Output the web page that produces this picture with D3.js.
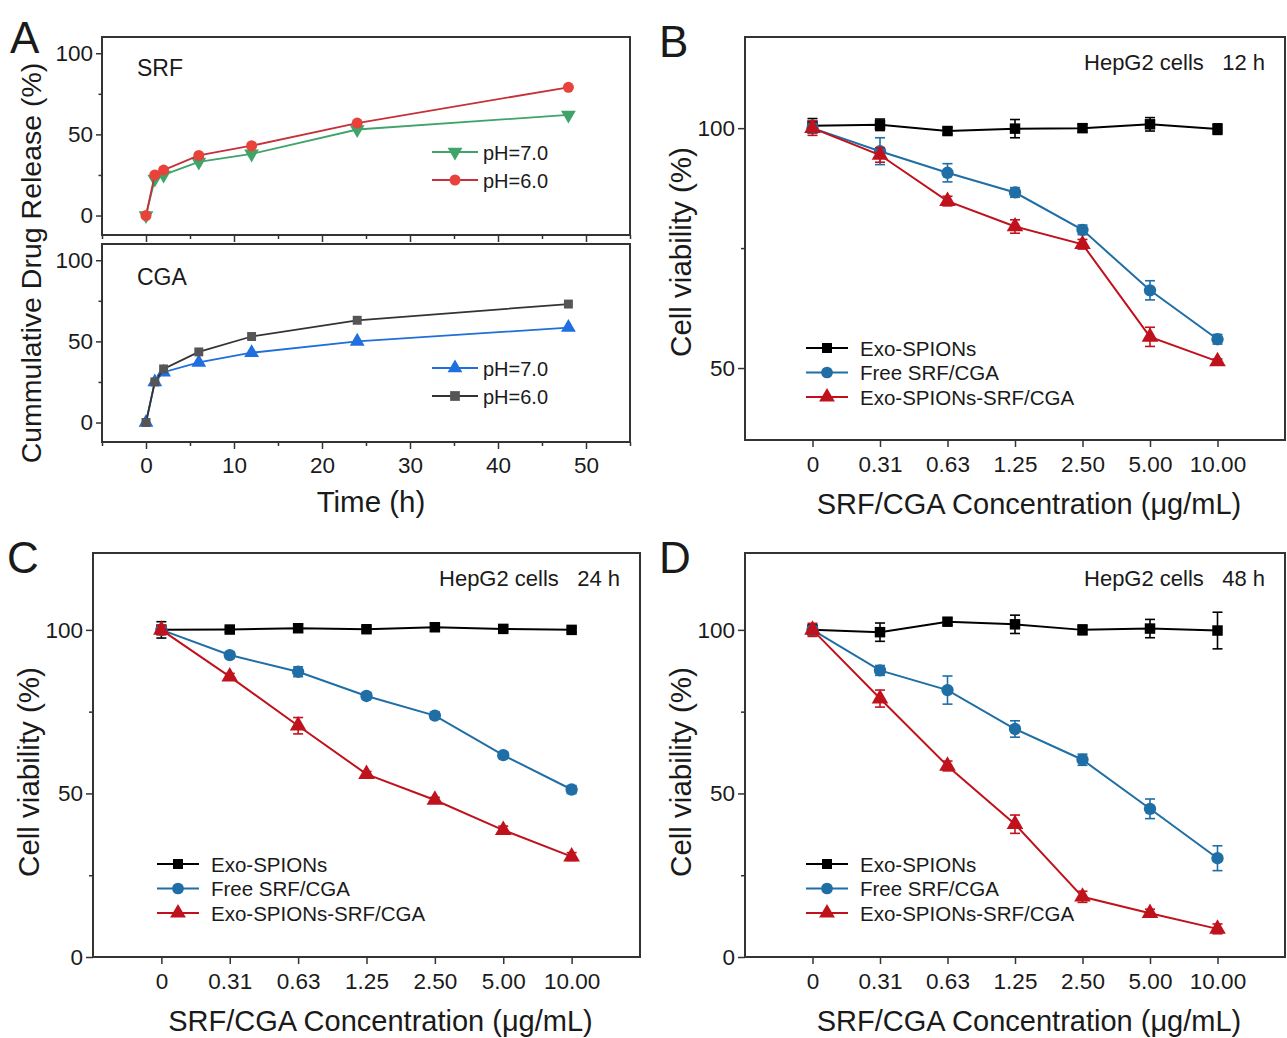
<!DOCTYPE html>
<html>
<head>
  <meta charset="utf-8">
  <title>Release and viability</title>
  <style>
  body { margin: 0; background: #fff; }
  svg { font-family: "Liberation Sans", Arial, sans-serif; }
  </style>
</head>
<body>
  <svg width="1287" height="1038"></svg>
  <script src="https://d3js.org/d3.v7.min.js"></script>
  <script>
    // ---- data ----
    var releaseTime = [0, 1, 2, 6, 12, 24, 48];
    var srfPH7 = [0, 22.5, 25, 33, 38, 53, 62];
    var srfPH6 = [0, 25, 28, 37, 43, 57, 79];
    var cgaPH7 = [0, 25, 31, 37, 43, 50, 58.5];
    var cgaPH6 = [0, 25, 33, 43.5, 53, 63, 73];

    var concLabels = ["0", "0.31", "0.63", "1.25", "2.50", "5.00", "10.00"];
    var seriesNames = ["Exo-SPIONs", "Free SRF/CGA", "Exo-SPIONs-SRF/CGA"];

    var exo12 = [100.5, 100.7, 99.4, 99.9, 100, 100.8, 99.8];
    var exo12Err = [1.5, 1.2, 0.7, 1.9, 0.8, 1.4, 1.1];
    var free12 = [100, 95.2, 90.7, 86.6, 78.8, 66.2, 56];
    var free12Err = [1, 2.8, 1.9, 1, 1, 2, 1];
    var combo12 = [100, 94.4, 84.8, 79.5, 75.8, 56.5, 51.4];
    var combo12Err = [1.5, 1.5, 1, 1.4, 1, 2, 0.5];

    var exo24 = [100, 100.1, 100.5, 100.2, 100.8, 100.3, 100];
    var exo24Err = [2.5, 0.8, 1.2, 0.8, 1.2, 0.8, 0.7];
    var free24 = [100, 92.3, 87.2, 79.8, 73.8, 61.7, 51.2];
    var free24Err = [1, 1, 1.5, 1, 1, 1, 1.2];
    var combo24 = [100, 85.7, 70.7, 55.9, 48, 38.8, 30.7];
    var combo24Err = [1.5, 1, 2.5, 0.8, 0.8, 1.2, 1.2];

    var exo48 = [100, 99.3, 102.5, 101.7, 100, 100.4, 99.8];
    var exo48Err = [1.5, 2.8, 1, 2.8, 1.5, 2.8, 5.6];
    var free48 = [100, 87.6, 81.6, 69.7, 60.3, 45.3, 30.2];
    var free48Err = [1, 1.5, 4.3, 2.5, 1.7, 3, 3.8];
    var combo48 = [100, 79, 58.4, 40.6, 18.4, 13.4, 8.6];
    var combo48Err = [2, 2.6, 1.5, 2.8, 1.7, 1.2, 1.5];

    var svg = d3.select("svg");
    var ink = "#1a1a1a";
    var tickFont = 22.5, titleFont = 29.5;

    function marker(g, shape, x, y, color, size) {
      var types = { square: d3.symbolSquare, circle: d3.symbolCircle, tri: d3.symbolTriangle, down: d3.symbolTriangle };
      g.append("path")
        .attr("d", d3.symbol().type(types[shape]).size(size)())
        .attr("transform", "translate(" + x + "," + y + ")" + (shape === "down" ? " rotate(180)" : ""))
        .attr("fill", color);
    }

    function frame(x0, x1, y0, y1) {
      svg.append("rect").attr("x", x0).attr("y", y0)
        .attr("width", x1 - x0).attr("height", y1 - y0)
        .attr("fill", "none").attr("stroke", "#333").attr("stroke-width", 2);
    }

    function styleAxis(g, size) {
      g.select(".domain").remove();
      g.selectAll(".tick line").attr("stroke", "#333").attr("stroke-width", 1.5);
      g.selectAll(".tick text").attr("fill", ink).attr("font-size", size)
        .attr("font-family", "Liberation Sans, Arial, sans-serif");
    }

    // ---- panel A ----
    var ax = d3.scaleLinear().domain([-5, 55]).range([102, 630]);

    function releasePanel(y0, y1, lines, showLabels) {
      var y = d3.scaleLinear().domain([-12, 110]).range([y1, y0]);
      frame(102, 630, y0, y1);
      var yg = svg.append("g").attr("transform", "translate(102,0)")
        .call(d3.axisLeft(y).tickValues([0, 50, 100]).tickSize(6).tickPadding(3));
      styleAxis(yg, tickFont);
      svg.append("g").attr("transform", "translate(102,0)")
        .call(d3.axisLeft(y).tickValues([25, 75]).tickSize(3.5).tickFormat(""))
        .call(function (g) { styleAxis(g, 1); });
      var xg = svg.append("g").attr("transform", "translate(0," + y1 + ")")
        .call(d3.axisBottom(ax).tickValues([0, 10, 20, 30, 40, 50]).tickSize(7).tickPadding(8));
      styleAxis(xg, tickFont);
      svg.append("g").attr("transform", "translate(0," + y1 + ")")
        .call(d3.axisBottom(ax).tickValues([-5, 5, 15, 25, 35, 45, 55]).tickSize(4).tickFormat(""))
        .call(function (g) { styleAxis(g, 1); });
      if (!showLabels) xg.selectAll(".tick text").remove();

      lines.forEach(function (s) {
        var line = d3.line().x(function (d, i) { return ax(releaseTime[i]); }).y(function (d) { return y(d); });
        svg.append("path").attr("d", line(s.values)).attr("fill", "none")
          .attr("stroke", s.line).attr("stroke-width", 1.8);
        var g = svg.append("g");
        s.values.forEach(function (v, i) { marker(g, s.shape, ax(releaseTime[i]), y(v), s.color, s.size); });
      });
      return y;
    }

    releasePanel(37, 235, [
      { values: srfPH7, color: "#3fa36a", line: "#3fa36a", shape: "down", size: 95 },
      { values: srfPH6, color: "#e8423b", line: "#c6303a", shape: "circle", size: 95 }
    ], false);
    releasePanel(244, 442, [
      { values: cgaPH7, color: "#1f6fe0", line: "#1f6fd8", shape: "tri", size: 95 },
      { values: cgaPH6, color: "#555555", line: "#333333", shape: "square", size: 80 }
    ], true);

    svg.append("text").attr("x", 137).attr("y", 76).attr("font-size", 23).attr("fill", ink).text("SRF");
    svg.append("text").attr("x", 137).attr("y", 285).attr("font-size", 23).attr("fill", ink).text("CGA");

    function releaseLegend(items, yStart) {
      items.forEach(function (it, i) {
        var yy = yStart + i * 28;
        var g = svg.append("g");
        g.append("line").attr("x1", 432).attr("x2", 478).attr("y1", yy).attr("y2", yy)
          .attr("stroke", it.line).attr("stroke-width", 1.8);
        marker(g, it.shape, 455, yy, it.color, 95);
        g.append("text").attr("x", 483).attr("y", yy + 7.5).attr("font-size", 20).attr("fill", ink).text(it.name);
      });
    }
    releaseLegend([
      { name: "pH=7.0", color: "#3fa36a", line: "#3fa36a", shape: "down" },
      { name: "pH=6.0", color: "#e8423b", line: "#c6303a", shape: "circle" }
    ], 152);
    releaseLegend([
      { name: "pH=7.0", color: "#1f6fe0", line: "#1f6fd8", shape: "tri" },
      { name: "pH=6.0", color: "#555555", line: "#333333", shape: "square" }
    ], 368);

    svg.append("text").attr("x", 371).attr("y", 512).attr("text-anchor", "middle")
      .attr("font-size", titleFont).attr("fill", ink).text("Time (h)");
    svg.append("text").attr("transform", "translate(41,263) rotate(-90)").attr("text-anchor", "middle")
      .attr("font-size", 28.5).attr("fill", ink).text("Cummulative Drug Release (%)");

    // ---- viability panels ----
    var seriesStyle = [
      { color: "#000000", shape: "square", size: 110 },
      { color: "#1f6ea6", shape: "circle", size: 120 },
      { color: "#c0121c", shape: "tri", size: 120 }
    ];

    function viabilityPanel(p) {
      var x = d3.scaleLinear().domain([-1, 7]).range([p.x0, p.x1]);
      var y = d3.scaleLinear().domain(p.yDomain).range([p.y1, p.y0]);
      frame(p.x0, p.x1, p.y0, p.y1);

      var yg = svg.append("g").attr("transform", "translate(" + p.x0 + ",0)")
        .call(d3.axisLeft(y).tickValues(p.yTicks).tickSize(7).tickPadding(3));
      styleAxis(yg, tickFont);
      svg.append("g").attr("transform", "translate(" + p.x0 + ",0)")
        .call(d3.axisLeft(y).tickValues(p.yMinor).tickSize(4).tickFormat(""))
        .call(function (g) { styleAxis(g, 1); });
      var xg = svg.append("g").attr("transform", "translate(0," + p.y1 + ")")
        .call(d3.axisBottom(x).tickValues(d3.range(concLabels.length))
          .tickFormat(function (i) { return concLabels[i]; }).tickSize(7).tickPadding(9));
      styleAxis(xg, tickFont);

      var data = [[p.exo, p.exoErr], [p.free, p.freeErr], [p.combo, p.comboErr]];
      data.forEach(function (d, k) {
        var st = seriesStyle[k];
        var line = d3.line().x(function (v, i) { return x(i); }).y(function (v) { return y(v); });
        svg.append("path").attr("d", line(d[0])).attr("fill", "none")
          .attr("stroke", st.color).attr("stroke-width", 2);
        var g = svg.append("g");
        d[0].forEach(function (v, i) {
          var cx = x(i), lo = y(v - d[1][i]), hi = y(v + d[1][i]);
          g.append("line").attr("x1", cx).attr("x2", cx).attr("y1", lo).attr("y2", hi)
            .attr("stroke", st.color).attr("stroke-width", 1.6);
          [lo, hi].forEach(function (yy) {
            g.append("line").attr("x1", cx - 5).attr("x2", cx + 5).attr("y1", yy).attr("y2", yy)
              .attr("stroke", st.color).attr("stroke-width", 1.6);
          });
          marker(g, st.shape, cx, y(v), st.color, st.size);
        });
      });

      // legend
      seriesNames.forEach(function (name, k) {
        var st = seriesStyle[k];
        var yy = p.legY + k * 24.5;
        var g = svg.append("g");
        g.append("line").attr("x1", p.legX).attr("x2", p.legX + 42).attr("y1", yy).attr("y2", yy)
          .attr("stroke", st.color).attr("stroke-width", 2);
        marker(g, st.shape, p.legX + 21, yy, st.color, st.size * 0.9);
        g.append("text").attr("x", p.legX + 54).attr("y", yy + 7.5).attr("font-size", 20.5)
          .attr("fill", ink).text(name);
      });

      svg.append("text").attr("x", p.x1 - 20).attr("y", p.y0 + 33).attr("text-anchor", "end")
        .attr("font-size", 22).attr("fill", ink).attr("xml:space", "preserve").text(p.title);
      svg.append("text").attr("x", (p.x0 + p.x1) / 2 + 14).attr("y", p.y1 + 74).attr("text-anchor", "middle")
        .attr("font-size", 29).attr("fill", ink).text("SRF/CGA Concentration (\u03bcg/mL)");
      svg.append("text").attr("transform", "translate(" + (p.x0 - 54) + "," + p.labY + ") rotate(-90)")
        .attr("text-anchor", "middle").attr("font-size", titleFont).attr("fill", ink).text("Cell viability (%)");
      svg.append("text").attr("x", p.x0 - 86).attr("y", p.y0 + 20).attr("font-size", 44)
        .attr("fill", ink).text(p.letter);
    }

    viabilityPanel({
      letter: "B", title: "HepG2 cells   12 h",
      x0: 745, x1: 1285, y0: 37, y1: 440, yDomain: [35, 119], yTicks: [50, 100], yMinor: [75],
      exo: exo12, exoErr: exo12Err, free: free12, freeErr: free12Err, combo: combo12, comboErr: combo12Err,
      legX: 806, legY: 348, labY: 252
    });
    viabilityPanel({
      letter: "C", title: "HepG2 cells   24 h",
      x0: 93, x1: 640, y0: 553, y1: 957, yDomain: [0, 123.5], yTicks: [0, 50, 100], yMinor: [25, 75],
      exo: exo24, exoErr: exo24Err, free: free24, freeErr: free24Err, combo: combo24, comboErr: combo24Err,
      legX: 157, legY: 864, labY: 772
    });
    viabilityPanel({
      letter: "D", title: "HepG2 cells   48 h",
      x0: 745, x1: 1285, y0: 553, y1: 957, yDomain: [0, 123.5], yTicks: [0, 50, 100], yMinor: [25, 75],
      exo: exo48, exoErr: exo48Err, free: free48, freeErr: free48Err, combo: combo48, comboErr: combo48Err,
      legX: 806, legY: 864, labY: 772
    });

    svg.append("text").attr("x", 10).attr("y", 53).attr("font-size", 44).attr("fill", ink).text("A");
  </script>
</body>
</html>
